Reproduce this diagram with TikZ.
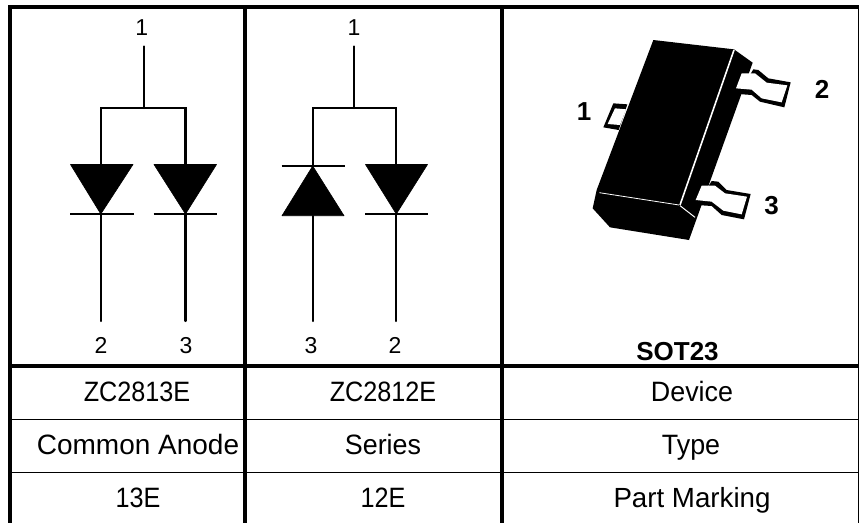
\documentclass[tikz,border=0pt]{standalone}
\usepackage{fontspec}
\setmainfont{Liberation Sans}
\newfontfamily\fnarrow[FakeStretch=0.9]{Liberation Sans}
\newfontfamily\fmid[FakeStretch=0.96]{Liberation Sans}
\tikzset{
  thick rule/.style={line width=4pt,black},
  thin rule/.style={line width=1pt,black},
  wire/.style={line width=2.2pt,black},
  diode fill/.style={fill=black,draw=black,line width=0.6pt,line join=round},
  pin/.style={inner sep=0pt,anchor=base,font=\fontsize{23}{23}\selectfont},
  cell/.style={inner sep=0pt,anchor=base,font=\fmid\fontsize{28}{28}\selectfont},
  code/.style={inner sep=0pt,anchor=base,font=\fnarrow\fontsize{28}{28}\selectfont},
  bold label/.style={inner sep=0pt,anchor=base,font=\bfseries\fontsize{26}{26}\selectfont}
}
\begin{document}
\begin{tikzpicture}[x=1pt,y=-1pt]
\path[use as bounding box,fill=white] (0,0) rectangle (859,523);
% table grid
\coordinate (tl) at (8,7); \coordinate (tr) at (859,7);
\coordinate (ml) at (8,366); \coordinate (mr) at (859,366);
\coordinate (al) at (10,419); \coordinate (ar) at (858,419);
\coordinate (bl) at (10,472); \coordinate (br) at (858,472);
\coordinate (v1t) at (10,7); \coordinate (v1b) at (10,523);
\coordinate (v2t) at (245,7); \coordinate (v2b) at (245,523);
\coordinate (v3t) at (502,7); \coordinate (v3b) at (502,523);
\coordinate (v4t) at (858,7); \coordinate (v4b) at (858,523);
\draw[thin rule] (al)--(ar) (bl)--(br) (v4t)--(v4b);
\draw[thick rule] (tl)--(tr) (ml)--(mr) (v1t)--(v1b) (v2t)--(v2b) (v3t)--(v3b);
% left schematic
\coordinate (a0) at (143.7,46.5); \coordinate (aj) at (143.7,108);
\coordinate (al1) at (100.8,108); \coordinate (ar1) at (185.5,108);
\coordinate (ald) at (100.8,164.5); \coordinate (ard) at (185.5,164.5);
\coordinate (alc) at (100.8,214); \coordinate (arc) at (185.5,214);
\coordinate (ale) at (100.8,321); \coordinate (are) at (185.5,321);
\draw[wire,line cap=round] (a0)--(aj);
\draw[wire,line cap=rect] (ald)--(al1)--(ar1)--(ard);
\draw[wire,line cap=round] (alc)--(ale) (arc)--(are);
\draw[diode fill] (70.5,164.5)--(133,164.5)--(alc)--cycle;
\draw[diode fill] (154,164.5)--(216.5,164.5)--(arc)--cycle;
\draw[wire] (70,214)--(133.5,214) (153.5,214)--(217,214);
% right schematic
\coordinate (b0) at (354.3,46.5); \coordinate (bj) at (354.3,108);
\coordinate (bl1) at (312.7,108); \coordinate (br1) at (396.3,108);
\coordinate (bld) at (312.7,166); \coordinate (brd) at (396.3,164.5);
\coordinate (blc) at (312.7,216); \coordinate (brc) at (396.3,214);
\coordinate (ble) at (312.7,321); \coordinate (bre) at (396.3,321);
\draw[wire,line cap=round] (b0)--(bj);
\draw[wire,line cap=rect] (bld)--(bl1)--(br1)--(brd);
\draw[wire,line cap=round] (blc)--(ble) (brc)--(bre);
\draw[diode fill] (282,215.7)--(344,215.7)--(bld)--cycle;
\draw[diode fill] (365.5,164.5)--(427.5,164.5)--(brc)--cycle;
\draw[wire] (281.5,166)--(344.5,166) (365,214)--(428,214);
% pin numbers
\node[pin] (p1) at (141.7,35) {1};
\node[pin] (p2) at (101,353) {2};
\node[pin] (p3) at (186,353) {3};
\node[pin] (q1) at (354,35) {1};
\node[pin] (q3) at (311,353) {3};
\node[pin] (q2) at (395,353) {2};
% package
\begin{scope}[shift={(540,20)},x=0.33333pt,y=-0.33333pt]
\fill[black] (340,60)--(582,88)--(638,128)--(447,660)--(210,622)--(158,565)--(170,510)--cycle;
\fill[black] (640,148)--(655,150)--(685,175)--(752,187)--(733,262)--(660,245)--(635,225)--(595,222)--cycle;
\fill[white] (605,160)--(645,160)--(680,188)--(742,196)--(725,247)--(665,235)--(635,209)--(588,205)--cycle;
\fill[black] (515,483)--(535,485)--(560,510)--(632,522)--(612,598)--(545,585)--(515,558)--(470,555)--cycle;
\fill[white] (485,497)--(525,497)--(555,520)--(621,530)--(605,583)--(550,572)--(515,545)--(467,540)--cycle;
\fill[black] (262,253)--(220,250)--(190,322)--(236,330)--cycle;
\fill[white] (258,268)--(225,265)--(203,312)--(240,315)--cycle;
\draw[white,line width=1.6pt] (582,90)--(420,555);
\draw[white,line width=0.8pt] (178,518)--(417,555);
\draw[white,line width=1pt] (420,557)--(465,592);
\end{scope}
\node[bold label] (s1) at (584,120) {1};
\node[bold label] (s2) at (822,98) {2};
\node[bold label] (s3) at (771.7,214) {3};
\node[bold label] (sot) at (677.5,360) {SOT23};
% table text
\node[code] (c1) at (137,401.7) {ZC2813E};
\node[code] (c2) at (383,401.7) {ZC2812E};
\node[cell] (c3) at (692,401.7) {Device};
\node[cell,font=\rmfamily\fontsize{28}{28}\selectfont] (d1) at (138,454) {Common Anode};
\node[cell] (d2) at (383,454) {Series};
\node[cell] (d3) at (691,454) {Type};
\node[code] (e1) at (138,507) {13E};
\node[code] (e2) at (383,507) {12E};
\node[cell,font=\rmfamily\fontsize{27.7}{28}\selectfont] (e3) at (692,507) {Part Marking};
\end{tikzpicture}
\end{document}
